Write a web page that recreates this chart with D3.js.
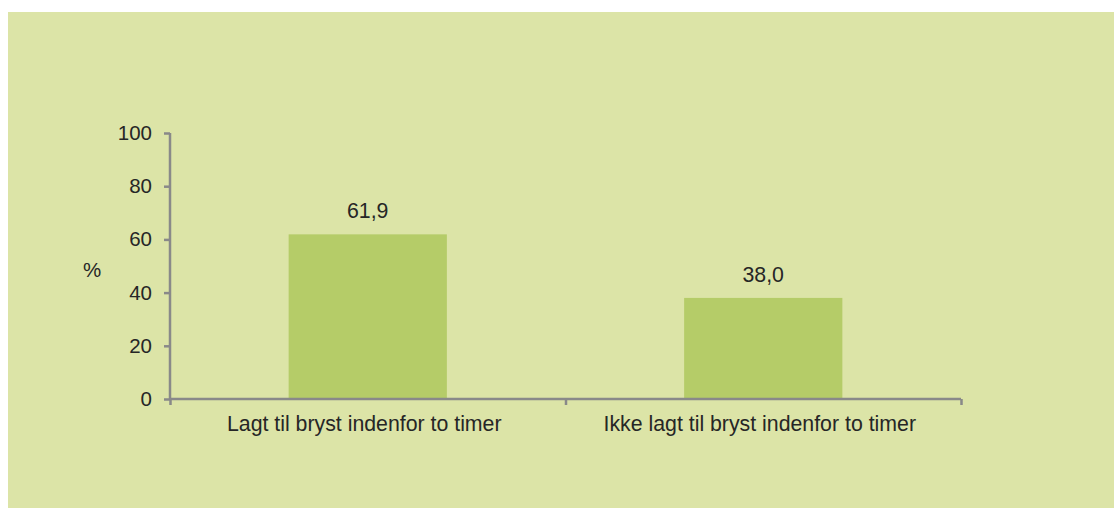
<!DOCTYPE html>
<html>
<head>
<meta charset="utf-8">
<script src="https://cdn.jsdelivr.net/npm/d3@7"></script>
<style>
  html, body { margin: 0; padding: 0; background: #ffffff; }
  svg { display: block; }
  text { font-family: "Liberation Sans", Arial, sans-serif; fill: #262626; }
</style>
</head>
<body>
<svg id="chart" width="1114" height="508"></svg>
<script>
// Share of newborns put to the breast within two hours
const categories = ["Lagt til bryst indenfor to timer", "Ikke lagt til bryst indenfor to timer"];
const values = [61.9, 38.0];
const valueLabels = ["61,9", "38,0"];
const yTicks = [0, 20, 40, 60, 80, 100];
const yTitle = "%";

const svg = d3.select("#chart");
const W = 1114, H = 508;
const plotLeft = 170, plotRight = 961, plotTop = 133, plotBottom = 399;
const tickFont = 20.5;
const labelFont = 21.3;
const axisColor = "#898989";

// Panel background
svg.append("rect")
  .attr("x", 8).attr("y", 12)
  .attr("width", W - 8).attr("height", H - 12)
  .attr("fill", "#dce4a7");

const x = d3.scaleBand()
  .domain(categories)
  .range([plotLeft, plotRight])
  .paddingInner(0.6)
  .paddingOuter(0.3);

const y = d3.scaleLinear()
  .domain([0, 100])
  .range([plotBottom, plotTop]);

// Bars
svg.append("g").selectAll("rect")
  .data(values)
  .join("rect")
  .attr("x", (d, i) => x(categories[i]))
  .attr("y", d => y(d))
  .attr("width", x.bandwidth())
  .attr("height", d => y(0) - y(d))
  .attr("fill", "#b5cc68");

// Value labels
svg.append("g").selectAll("text")
  .data(values)
  .join("text")
  .attr("x", (d, i) => x(categories[i]) + x.bandwidth() / 2)
  .attr("y", d => y(d) - 16)
  .attr("text-anchor", "middle")
  .style("font-size", labelFont + "px")
  .text((d, i) => valueLabels[i]);

// Y axis
const yAxis = svg.append("g")
  .attr("transform", `translate(${plotLeft},0)`)
  .call(d3.axisLeft(y).tickValues(yTicks).tickSize(6).tickPadding(12).tickFormat(d3.format("d")));
yAxis.select(".domain").attr("stroke", axisColor).attr("stroke-width", 2.5)
  .attr("d", `M0,${plotTop}V${plotBottom}`);
yAxis.selectAll(".tick line").attr("stroke", axisColor).attr("stroke-width", 2.5);
yAxis.selectAll(".tick text")
  .style("font-size", tickFont + "px")
  .style("font-family", "'Liberation Sans', Arial, sans-serif")
  .attr("fill", "#262626");

// X axis with tick marks between categories
const xEdges = d3.scaleLinear().domain([0, categories.length]).range([plotLeft, plotRight]);
const xAxis = svg.append("g")
  .attr("transform", `translate(0,${plotBottom})`)
  .call(d3.axisBottom(xEdges).tickValues(d3.range(categories.length + 1)).tickSize(6).tickFormat(""));
xAxis.select(".domain").attr("stroke", axisColor).attr("stroke-width", 2.5)
  .attr("d", `M${plotLeft},0H${plotRight}`);
xAxis.selectAll(".tick line").attr("stroke", axisColor).attr("stroke-width", 2.5);

// Category labels
svg.append("g").selectAll("text")
  .data(categories)
  .join("text")
  .attr("x", d => x(d) + x.bandwidth() / 2 - 3.5)
  .attr("y", 431)
  .attr("text-anchor", "middle")
  .style("font-size", labelFont + "px")
  .text(d => d);

// Y axis title
svg.append("text")
  .attr("x", 92)
  .attr("y", 277)
  .attr("text-anchor", "middle")
  .style("font-size", tickFont + "px")
  .text(yTitle);
</script>
</body>
</html>
